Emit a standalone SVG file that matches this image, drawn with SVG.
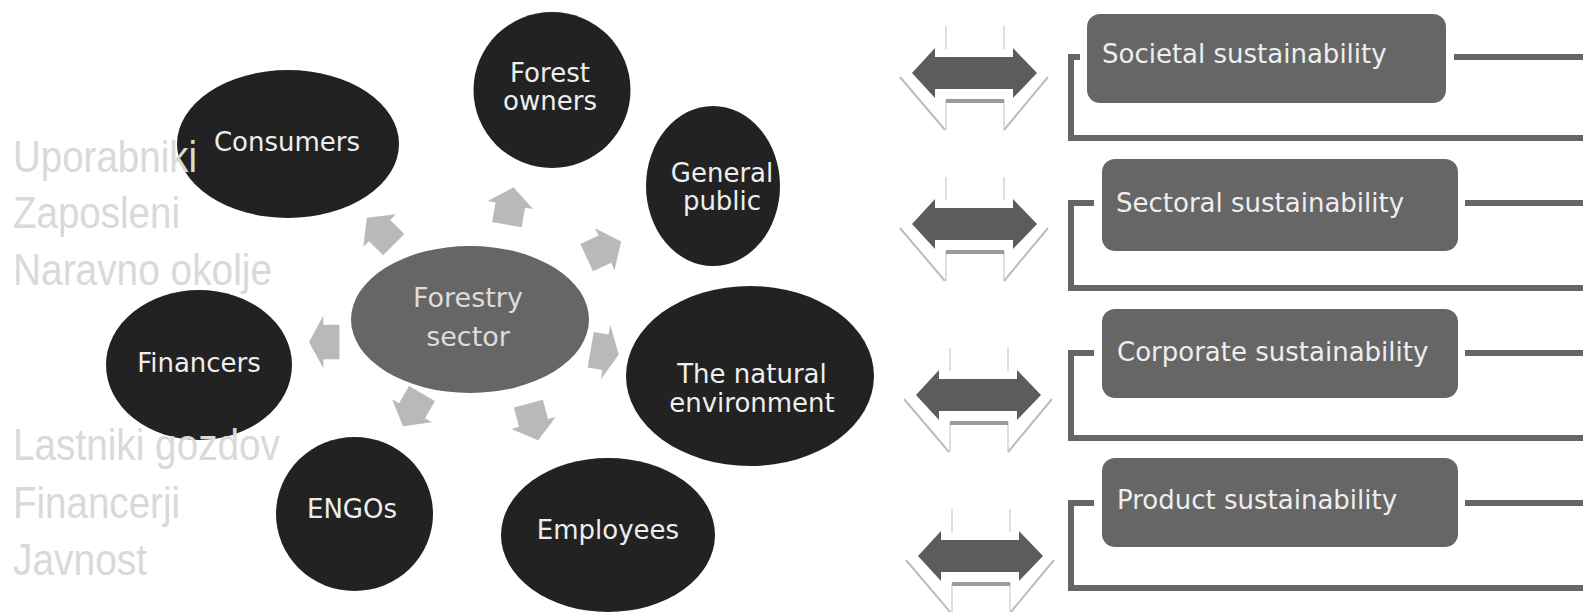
<svg xmlns="http://www.w3.org/2000/svg" width="1583" height="612" viewBox="0 0 1583 612">
<style>
.dark{fill:#222222}
.center{fill:#666666}
.nt{font-family:"DejaVu Sans",Verdana,sans-serif;font-size:26px;fill:#eeeeee;text-anchor:middle}
.ct{font-family:"DejaVu Sans",Verdana,sans-serif;font-size:27px;fill:#dddddd;text-anchor:middle}
.box{fill:#666666}
.bt{font-family:"DejaVu Sans",Verdana,sans-serif;font-size:26px;fill:#eeeeee}
.br{fill:none;stroke:#666666;stroke-width:6}
.sl{font-family:"Liberation Sans",Arial,sans-serif;font-size:45px;fill:#d9d9d9}
.ga{fill:#b9b9b9}
.da{fill:#5c5c5c}
.thin{stroke:#d4d4d4;stroke-width:1.5;fill:none}
.diag{stroke:#bdbdbd;stroke-width:2;fill:none}
.bar{fill:#9a9a9a}
</style>
<defs>
<polygon id="ga" points="-18,-15 2,-15 2,-23 20,0 2,23 2,15 -18,15"/>
<g id="dbl">
<line class="thin" x1="34" y1="-47" x2="34" y2="-24"/>
<line class="thin" x1="92" y1="-47" x2="92" y2="-24"/>
<line class="thin" x1="34" y1="27" x2="34" y2="57"/>
<line class="thin" x1="92" y1="27" x2="92" y2="57"/>
<rect class="bar" x="34" y="26" width="58" height="4"/>
<line class="diag" x1="-12" y1="4" x2="33" y2="57"/>
<line class="diag" x1="136" y1="4" x2="92" y2="57"/>
<polygon class="da" points="0,0 23,-25 23,-16 101,-16 101,-25 125,0 101,25 101,16 23,16 23,25"/>
</g>
</defs>
<rect width="1583" height="612" fill="#ffffff"/>

<g id="connectors">
<g id="radial-arrows" class="ga">
<use href="#ga" transform="translate(381,232) rotate(-135)"/>
<use href="#ga" transform="translate(510,207) rotate(-80)"/>
<use href="#ga" transform="translate(603,250) rotate(-25)"/>
<use href="#ga" transform="translate(604,352) rotate(10) scale(0.75,1.2)"/>
<use href="#ga" transform="translate(533,421) rotate(75)"/>
<use href="#ga" transform="translate(413,409) rotate(120)"/>
<use href="#ga" transform="translate(325,342) rotate(180) scale(0.8,1.15)"/>
</g>
<g id="double-arrows">
<use href="#dbl" transform="translate(912,73)"/>
<use href="#dbl" transform="translate(912,224)"/>
<use href="#dbl" transform="translate(916,395)"/>
<use href="#dbl" transform="translate(918,556)"/>
</g>
<g id="brackets">
<path class="br" d="M1080,57 H1071 V138 H1583"/>
<path class="br" d="M1454,57 H1583"/>
<path class="br" d="M1094,203 H1071 V288 H1583"/>
<path class="br" d="M1465,203 H1583"/>
<path class="br" d="M1094,353 H1071 V438 H1583"/>
<path class="br" d="M1465,353 H1583"/>
<path class="br" d="M1094,503 H1071 V588 H1583"/>
<path class="br" d="M1465,503 H1583"/>
</g>
</g>

<g id="forestry-sector">
<ellipse class="center" cx="470" cy="319.5" rx="119" ry="73.5"/>
<text class="ct" x="468" y="307">Forestry</text>
<text class="ct" x="468" y="346">sector</text>
</g>
<g id="consumers">
<ellipse class="dark" cx="288" cy="144" rx="111" ry="74"/>
<text class="nt" x="287" y="151">Consumers</text>
</g>
<g id="forest-owners">
<ellipse class="dark" cx="552" cy="90" rx="78.5" ry="78"/>
<text class="nt" x="550" y="82">Forest</text>
<text class="nt" x="550" y="110">owners</text>
</g>
<g id="general-public">
<ellipse class="dark" cx="713" cy="186" rx="67" ry="80"/>
<text class="nt" x="722" y="182">General</text>
<text class="nt" x="722" y="210">public</text>
</g>
<g id="natural-environment">
<ellipse class="dark" cx="750" cy="376" rx="124" ry="90"/>
<text class="nt" x="752" y="383">The natural</text>
<text class="nt" x="752" y="412">environment</text>
</g>
<g id="employees">
<ellipse class="dark" cx="608" cy="535" rx="107" ry="77"/>
<text class="nt" x="608" y="539">Employees</text>
</g>
<g id="engos">
<ellipse class="dark" cx="354.5" cy="514" rx="78.5" ry="77"/>
<text class="nt" x="352" y="518">ENGOs</text>
</g>
<g id="financers">
<ellipse class="dark" cx="199" cy="365" rx="93" ry="75"/>
<text class="nt" x="199" y="372">Financers</text>
</g>

<g id="societal">
<rect class="box" x="1087" y="14" width="359" height="89" rx="13"/>
<text class="bt" x="1102" y="63">Societal sustainability</text>
</g>
<g id="sectoral">
<rect class="box" x="1102" y="159" width="356" height="92" rx="13"/>
<text class="bt" x="1116" y="212">Sectoral sustainability</text>
</g>
<g id="corporate">
<rect class="box" x="1102" y="309" width="356" height="89" rx="13"/>
<text class="bt" x="1117" y="361">Corporate sustainability</text>
</g>
<g id="product">
<rect class="box" x="1102" y="458" width="356" height="89" rx="13"/>
<text class="bt" x="1117" y="509">Product sustainability</text>
</g>

<g id="slovene-labels" class="sl">
<text x="13" y="172" textLength="184" lengthAdjust="spacingAndGlyphs">Uporabniki</text>
<text x="13" y="228" textLength="167" lengthAdjust="spacingAndGlyphs">Zaposleni</text>
<text x="13" y="285" textLength="259" lengthAdjust="spacingAndGlyphs">Naravno okolje</text>
<text x="13" y="460" textLength="267" lengthAdjust="spacingAndGlyphs">Lastniki gozdov</text>
<text x="13" y="518" textLength="167" lengthAdjust="spacingAndGlyphs">Financerji</text>
<text x="13" y="575" textLength="134" lengthAdjust="spacingAndGlyphs">Javnost</text>
</g>
</svg>
